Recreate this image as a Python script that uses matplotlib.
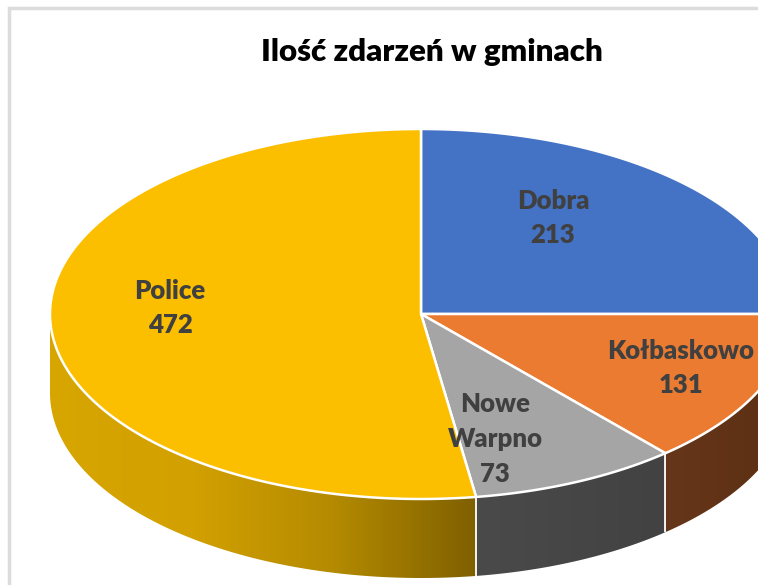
import numpy as np
import matplotlib
matplotlib.use("Agg")
import matplotlib.pyplot as plt
from matplotlib.colors import LinearSegmentedColormap
from matplotlib.patches import Polygon, Rectangle

title = "Ilość zdarzeń w gminach"
gminy = ["Dobra", "Kołbaskowo", "Nowe\nWarpno", "Police"]
zdarzenia = [213, 131, 73, 472]

top_colors = ["#4472c4", "#eb7b31", "#a5a5a5", "#fcbf00"]
side_colors = [
    ["#2f5597", "#2f5597"],
    ["#66361a", "#5c2f12"],
    ["#4a4a4a", "#424242"],
    ["#d8a600", "#d2a000", "#b48a00", "#7f6000"],
]
# the 3d view in the original shifts the slice edges a little
edge_nudge = [3.75, -0.5, 2.6, 0]
label_pos = [(553, 218), (681, 368), (495, 439), (170, 308)]

cx, cy = 421, 314
rx, ry = 371, 185
depth = 79


def rim(a, b, drop=0):
    t = np.radians(np.linspace(a, b, 200))
    return cx + rx * np.sin(t), cy - ry * np.cos(t) + drop


fig = plt.figure(figsize=(7.58, 5.85), dpi=100)
ax = fig.add_axes([0, 0, 1, 1])
ax.set_xlim(0, 758)
ax.set_ylim(585, 0)
ax.axis("off")

ax.add_patch(Rectangle((9, 7.5), 800, 700, fc="white", ec="#dcdcdc", lw=2.5, zorder=1))

edges = np.cumsum(zdarzenia) / sum(zdarzenia) * 360
starts = np.r_[0, edges[:-1]] + np.r_[0, edge_nudge[:-1]]
ends = edges + np.array(edge_nudge)

# side walls first, only the front half of the pie shows them
for start, end, colors in zip(starts, ends, side_colors):
    a, b = max(start, 90), min(end, 270)
    if b <= a:
        continue
    x, y = rim(a, b)
    x2, y2 = rim(a, b, depth)
    pts = np.r_[np.c_[x, y], np.c_[x2, y2][::-1]]
    poly = Polygon(pts, closed=True, fc="none", ec="none", zorder=2)
    ax.add_patch(poly)
    cmap = LinearSegmentedColormap.from_list("side", colors)
    im = ax.imshow(np.linspace(0, 1, 256)[None, :], cmap=cmap, aspect="auto", zorder=2,
                   extent=(pts[:, 0].min(), pts[:, 0].max(), pts[:, 1].max(), pts[:, 1].min()))
    im.set_clip_path(poly)
    # white seam where two walls meet
    if a > 90:
        ax.plot([x[0], x2[0]], [y[0], y2[0]], color="white", lw=1.3, solid_capstyle="butt", zorder=3)

ax.set_xlim(0, 758)
ax.set_ylim(585, 0)

# top face
for start, end, color in zip(starts, ends, top_colors):
    x, y = rim(start, end)
    ax.fill(np.r_[cx, x], np.r_[cy, y], fc=color, ec="white", lw=1.8, joinstyle="round", zorder=4)

for name, value, (lx, ly) in zip(gminy, zdarzenia, label_pos):
    ax.text(lx, ly, f"{name}\n{value}", ha="center", va="center", family="Lato",
            weight="heavy", fontsize=18.5, color="#404040", linespacing=1.54, zorder=5)

ax.text(432, 52, title, ha="center", va="center", family="Lato", weight="heavy",
        fontsize=22.5, color="black", zorder=5)

fig.savefig("out.png", dpi=100)
